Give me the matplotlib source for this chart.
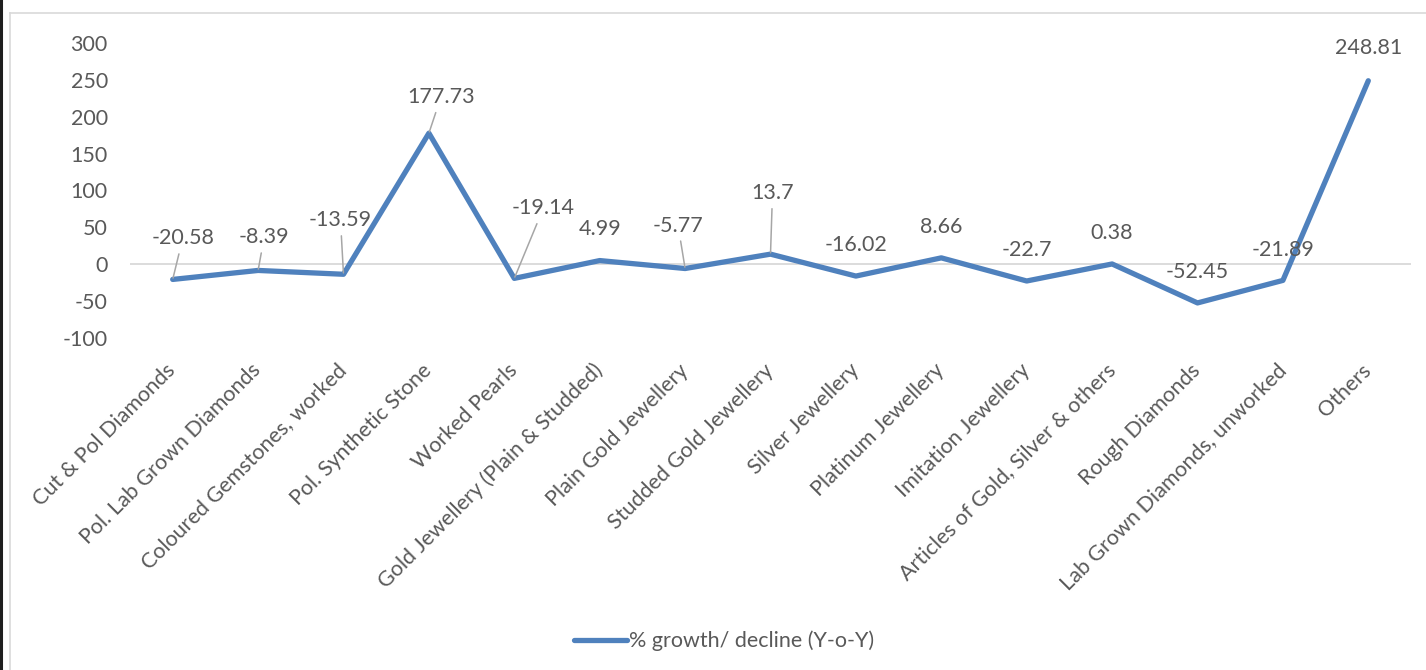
import matplotlib.pyplot as plt
from matplotlib.lines import Line2D

# ── données ──────────────────────────────────────────────
categories = [
    "Cut & Pol Diamonds", "Pol. Lab Grown Diamonds", "Coloured Gemstones, worked",
    "Pol. Synthetic Stone", "Worked Pearls", "Gold Jewellery (Plain & Studded)",
    "Plain Gold Jewellery", "Studded Gold Jewellery", "Silver Jewellery",
    "Platinum Jewellery", "Imitation Jewellery", "Articles of Gold, Silver & others",
    "Rough Diamonds", "Lab Grown Diamonds, unworked", "Others",
]
growth = [-20.58, -8.39, -13.59, 177.73, -19.14, 4.99, -5.77, 13.7,
          -16.02, 8.66, -22.7, 0.38, -52.45, -21.89, 248.81]
series_name = "% growth/ decline (Y-o-Y)"
yticks = [-100, -50, 0, 50, 100, 150, 200, 250, 300]

# décalage des étiquettes (pixels) et présence d'un trait de rappel
label_off = [(10, 41), (6, 33), (-3, 54), (12, 36), (29, 70), (0, 32), (-7, 43),
             (2, 61), (0, 31), (0, 31), (0, 31), (0, 31), (0, 31), (0, 30), (0, 33)]
leader = [True, True, True, True, True, False, True, True,
          False, False, False, False, False, False, False]

plt.rcParams["font.family"] = ["Lato", "DejaVu Sans"]
TXT = "#595959"
BLUE = "#4f81bd"
FS = 15.5

fig = plt.figure(figsize=(14.26, 6.70), dpi=100)
W, H = 1426, 670
ax = fig.add_axes([130 / W, 1 - 338 / H, (1411 - 130) / W, (338 - 43) / H])

x = list(range(len(categories)))
ax.plot(x, growth, color=BLUE, lw=3.8, solid_joinstyle="round",
        solid_capstyle="round", label=series_name, zorder=3)
ax.axhline(0, color="#d9d9d9", lw=1.3, zorder=1)

ax.set_xlim(-0.5, len(categories) - 0.5)
ax.set_ylim(-100, 300)
ax.set_yticks(yticks)
ax.set_yticklabels([str(v) for v in yticks])
ax.set_xticks(x)
ax.set_xticklabels(categories, rotation=45, ha="right", va="center",
                   rotation_mode="anchor")
ax.tick_params(axis="both", length=0, labelsize=FS, labelcolor=TXT)
ax.tick_params(axis="y", pad=16)
ax.tick_params(axis="x", pad=21)
for s in ax.spines.values():
    s.set_visible(False)

for i, v in enumerate(growth):
    dx, dy = label_off[i]
    ap = None
    if leader[i]:
        ap = dict(arrowstyle="-", color="#a6a6a6", lw=1.1, shrinkA=2, shrinkB=1)
    ax.annotate(f"{v:g}", (i, v), xytext=(dx, dy), textcoords="offset pixels",
                ha="center", va="center", fontsize=FS, color=TXT,
                arrowprops=ap, zorder=4)

leg = fig.legend(loc="center", bbox_to_anchor=(0.508, 1 - 641 / H), frameon=False,
                 fontsize=FS, handlelength=2.45, handletextpad=0.1)
for t in leg.get_texts():
    t.set_color(TXT)

# cadre du graphique
fig.add_artist(Line2D([10 / W, 1], [1 - 13 / H, 1 - 13 / H], color="#d9d9d9", lw=1.2))
fig.add_artist(Line2D([10 / W, 10 / W], [0, 1 - 13 / H], color="#d9d9d9", lw=1.2))
fig.add_artist(Line2D([1 / W, 1 / W], [0, 1], color="#1e1e1e", lw=2.2))

fig.savefig("out.png", dpi=100)
